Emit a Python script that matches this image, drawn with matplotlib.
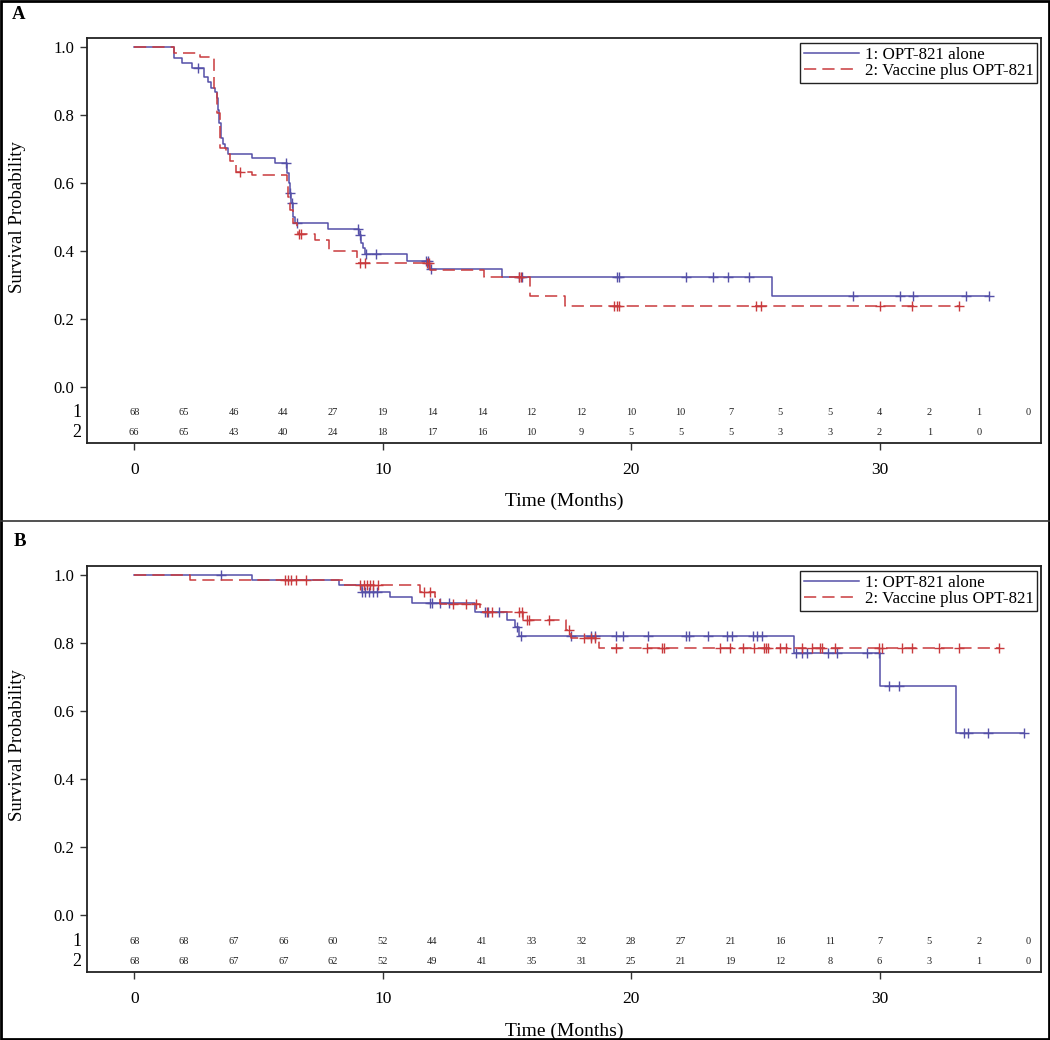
import numpy as np
import matplotlib
matplotlib.use('Agg')
import matplotlib.pyplot as plt
from matplotlib.lines import Line2D
from matplotlib.patches import Rectangle
import matplotlib.transforms as mtransforms

plt.rcParams['font.family'] = ['Liberation Serif', 'DejaVu Serif']

# ---------------- data ----------------
group_labels = ["1: OPT-821 alone", "2: Vaccine plus OPT-821"]
x_ticks = [0, 10, 20, 30]
y_ticks = [0.0, 0.2, 0.4, 0.6, 0.8, 1.0]
risk_times = list(range(0, 37, 2))

# Panel A
A_g1_t = [0, 1.61, 1.92, 2.32, 2.82, 2.99, 3.09, 3.26, 3.35, 3.39, 3.43, 3.49, 3.57, 3.66, 3.77,
          4.73, 5.67, 6.17, 6.22, 6.27, 6.33, 6.38, 6.48, 7.82, 9.03, 9.12, 9.22, 9.30, 11.0,
          11.88, 14.82, 25.66, 34.42]
A_g1_s = [1.0, 0.967, 0.952, 0.937, 0.913, 0.896, 0.880, 0.869, 0.849, 0.815, 0.776, 0.731, 0.715,
          0.702, 0.685, 0.673, 0.658, 0.628, 0.599, 0.570, 0.540, 0.501, 0.481, 0.465, 0.447,
          0.423, 0.408, 0.391, 0.371, 0.346, 0.322, 0.268, 0.268]
A_g1_cens = [2.56, 6.12, 6.27, 6.34, 6.55, 8.99, 9.1, 9.32, 9.74, 11.74, 11.82, 11.93, 15.5, 15.6,
             19.42, 19.52, 22.2, 23.29, 23.89, 24.76, 28.95, 30.83, 31.36, 33.47, 34.42]

A_g2_t = [0, 1.61, 2.66, 3.22, 3.35, 3.46, 3.70, 3.86, 4.10, 4.73, 6.14, 6.20, 6.27, 6.38, 6.54,
          6.60, 7.28, 7.85, 8.96, 11.91, 14.06, 15.94, 17.34, 33.2]
A_g2_s = [1.0, 0.983, 0.972, 0.878, 0.805, 0.702, 0.685, 0.666, 0.633, 0.622, 0.60, 0.56, 0.52,
          0.481, 0.462, 0.45, 0.432, 0.40, 0.364, 0.344, 0.323, 0.268, 0.239, 0.239]
A_g2_cens = [4.27, 6.64, 6.73, 9.09, 9.30, 11.8, 11.88, 15.47, 15.56, 19.3, 19.42, 19.52,
             25.03, 25.22, 30.02, 31.29, 33.2]

A_risk1 = [68, 65, 46, 44, 27, 19, 14, 14, 12, 12, 10, 10, 7, 5, 5, 4, 2, 1, 0]
A_risk2 = [66, 65, 43, 40, 24, 18, 17, 16, 10, 9, 5, 5, 5, 3, 3, 2, 1, 0]

# Panel B
B_g1_t = [0, 4.75, 8.24, 9.15, 10.29, 11.2, 13.7, 15.0, 15.33, 15.5, 26.57, 30.0, 33.09, 35.8]
B_g1_s = [1.0, 0.985, 0.971, 0.951, 0.934, 0.917, 0.892, 0.868, 0.848, 0.821, 0.77, 0.674,
          0.536, 0.536]
B_g1_cens = [3.5, 9.18, 9.29, 9.45, 9.61, 9.79, 11.9, 11.97, 12.3, 12.66, 14.1, 14.25, 14.7,
             15.4, 15.55, 17.6, 18.4, 18.56, 19.4, 19.68, 20.67, 22.2, 22.34, 23.1, 23.88, 24.06,
             24.9, 25.08, 25.26, 26.65, 26.88, 27.1, 27.93, 28.3, 29.5, 29.96, 30.4, 30.8,
             33.42, 33.58, 34.35, 35.8]

B_g2_t = [0, 2.24, 8.42, 11.5, 12.1, 12.3, 13.9, 15.65, 17.38, 17.6, 18.72, 34.8]
B_g2_s = [1.0, 0.985, 0.971, 0.951, 0.936, 0.915, 0.89, 0.866, 0.838, 0.814, 0.784, 0.784]
B_g2_cens = [6.06, 6.2, 6.33, 6.53, 6.93, 9.1, 9.23, 9.36, 9.5, 9.63, 9.8, 11.65, 11.89, 12.85,
             13.34, 13.77, 14.2, 14.4, 15.5, 15.6, 15.8, 15.9, 16.7, 17.5, 18.1, 18.37, 18.56,
             19.41, 20.64, 21.26, 21.34, 23.57, 23.98, 24.49, 24.96, 25.34, 25.42, 25.5, 26.0,
             26.22, 26.88, 27.3, 27.6, 27.7, 28.2, 29.96, 30.1, 30.9, 31.3, 32.4, 33.2, 34.8]

B_risk1 = [68, 68, 67, 66, 60, 52, 44, 41, 33, 32, 28, 27, 21, 16, 11, 7, 5, 2, 0]
B_risk2 = [68, 68, 67, 67, 62, 52, 49, 41, 35, 31, 25, 21, 19, 12, 8, 6, 3, 1, 0]

# ---------------- style ----------------
BLUE = '#5550a8'
RED = '#c93a3d'
DASH = (8, 4)
W, H = 1050, 1040

fig = plt.figure(figsize=(W / 100, H / 100), dpi=100)


def surv_at(ts, ss, x):
    idx = np.searchsorted(np.asarray(ts), np.asarray(x), side='right') - 1
    return np.asarray(ss)[idx]


def ax_rect(left, top, right, bottom):
    return [left / W, 1 - bottom / H, (right - left) / W, (bottom - top) / H]


def draw_panel(rect, g1t, g1s, g1c, g2t, g2s, g2c, r1, r2, ylim, rowy):
    ax = fig.add_axes(rect)
    ax.step(g1t, g1s, where='post', color=BLUE, lw=1.1)
    ax.plot(g1c, surv_at(g1t, g1s, g1c), ls='none', marker='+', ms=7, mew=1.0, color=BLUE)
    ax.step(g2t, g2s, where='post', color=RED, lw=1.1, dashes=DASH)
    ax.plot(g2c, surv_at(g2t, g2s, g2c), ls='none', marker='+', ms=7, mew=1.0, color=RED)

    ax.set_xlim(-1.9, 36.5)
    ax.set_ylim(*ylim)
    ax.set_xticks(x_ticks)
    ax.set_xticklabels([str(v) for v in x_ticks], fontsize=12.5)
    ax.set_yticks(y_ticks)
    ax.set_yticklabels([f"{v:.1f}" for v in y_ticks], fontsize=12)
    ax.tick_params(axis='both', direction='out', length=5, width=1.0, color='#333333')
    ax.tick_params(axis='x', pad=9)
    ax.tick_params(axis='y', pad=4)
    for sp in ax.spines.values():
        sp.set_linewidth(1.3)
        sp.set_color('#222222')

    trans = mtransforms.blended_transform_factory(ax.transAxes, ax.transData)
    for k, (vals, yy) in enumerate(zip([r1, r2], rowy)):
        for t, v in zip(risk_times, vals):
            ax.text(t, yy, str(v), ha='center', va='center', fontsize=7.5, color='#222222')
        ax.text(-0.0105, yy, str(k + 1), transform=trans, ha='center', va='center', fontsize=13)

    ax.text(0.5, -0.145, "Time (Months)", transform=ax.transAxes, ha='center', va='center',
            fontsize=14)
    yc = (0.5 - ylim[0]) / (ylim[1] - ylim[0])
    ax.text(-0.0725, yc, "Survival Probability", transform=ax.transAxes, rotation=90,
            ha='center', va='center', fontsize=13.5)

    handles = [Line2D([0], [0], color=BLUE, lw=1.1),
               Line2D([0], [0], color=RED, lw=1.1, dashes=DASH)]
    leg = ax.legend(handles, group_labels, loc='upper right', bbox_to_anchor=(0.996, 0.988),
                    fontsize=12.2, frameon=True, fancybox=False, framealpha=1,
                    edgecolor='#222222', handlelength=3.3, handletextpad=0.3,
                    borderpad=0.22, labelspacing=0.02, borderaxespad=0)
    leg.get_frame().set_linewidth(1.0)
    return ax


axA = draw_panel(ax_rect(87, 38, 1041, 443), A_g1_t, A_g1_s, A_g1_cens, A_g2_t, A_g2_s,
                 A_g2_cens, A_risk1, A_risk2, (-0.165, 1.0265), (-0.0765, -0.135))
axB = draw_panel(ax_rect(87, 566, 1041, 972), B_g1_t, B_g1_s, B_g1_cens, B_g2_t, B_g2_s,
                 B_g2_cens, B_risk1, B_risk2, (-0.168, 1.026), (-0.0785, -0.137))

# panel letters, frame and separator
fig.text(12 / W, 1 - 6 / H, "A", ha='left', va='top', fontsize=13.5, fontweight='bold')
fig.text(14 / W, 1 - 533 / H, "B", ha='left', va='top', fontsize=13.5, fontweight='bold')
fig.add_artist(Rectangle((0.001, 0.001), 0.998, 0.998, transform=fig.transFigure,
                         fill=False, edgecolor='black', lw=2.0))
fig.add_artist(Line2D([0, 1], [1 - 521 / H, 1 - 521 / H], transform=fig.transFigure,
                      color='#333333', lw=1.2))

fig.savefig('out.png', dpi=100, facecolor='white')
